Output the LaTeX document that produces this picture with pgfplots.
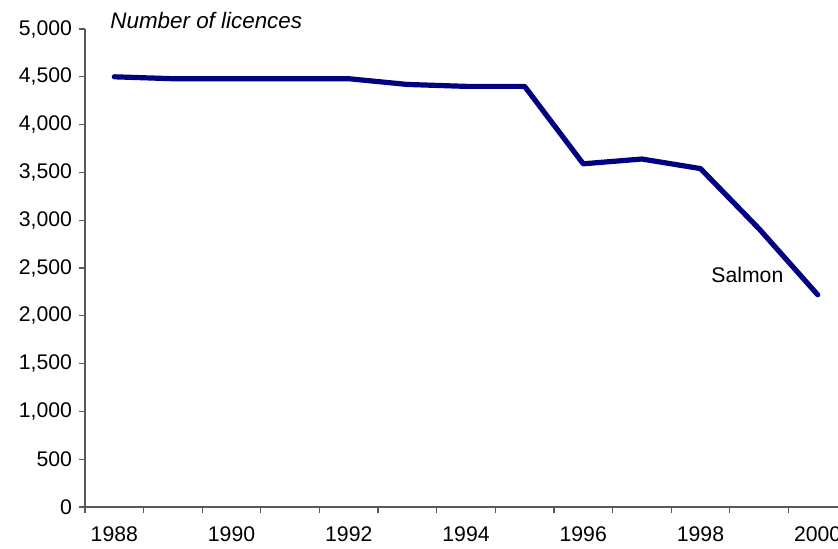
\documentclass[border=0pt]{standalone}
\usepackage{pgfplots}
\pgfplotsset{compat=1.18}
\usepackage{fontspec}
\setmainfont{Liberation Sans}
\definecolor{navy}{HTML}{000080}
\begin{document}
\begin{tikzpicture}
\begin{axis}[
  at={(42.5pt,20.5pt)}, anchor=origin,
  scale only axis, width=381pt, height=239pt,
  xmin=1987.5, xmax=2000.5, ymin=0, ymax=5000,
  axis lines*=left,
  axis line style={black!65, line width=0.6pt},
  every tick/.style={black!65, line width=0.6pt},
  tick align=outside,
  major tick length=3pt,
  xtick={1987.5,1988.5,...,2000.5}, xticklabels={},
  extra x ticks={1988,1990,...,2000},
  extra x tick labels={1988,1990,1992,1994,1996,1998,2000},
  extra x tick style={major tick length=0pt, xticklabel style={yshift=-6.5pt}},
  ytick={0,500,...,5000},
  /pgf/number format/.cd, 1000 sep={,}, assume math mode=true,
  /pgfplots/.cd,
  ticklabel style={font=\fontsize{10.6}{12}\selectfont, text=black},
  clip=false,
]
\addplot[navy, line width=2.6pt, line join=round, line cap=round] coordinates {
(1988,4500) (1989,4480) (1990,4480) (1991,4480) (1992,4480) (1993,4420)
(1994,4400) (1995,4400) (1996,3590) (1997,3640) (1998,3540) (1999,2910) (2000,2220)
};
\node[font=\fontsize{10.6}{12}\selectfont] at (axis cs:1998.8,2427) {Salmon};
\end{axis}
\node[anchor=west, font=\fontsize{11.2}{13}\selectfont\itshape, inner sep=0pt] at (55pt,264pt) {Number of licences};
\pgfresetboundingbox
\path[use as bounding box] (0,0) rectangle (419pt,274pt);
\end{tikzpicture}
\end{document}
